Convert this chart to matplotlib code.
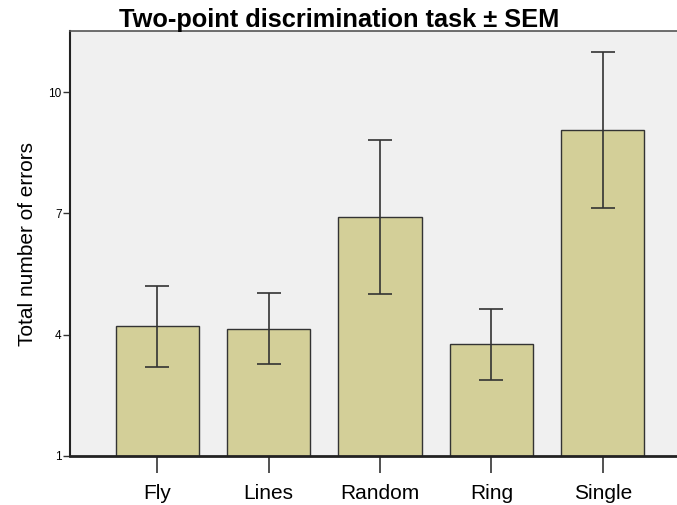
import matplotlib
matplotlib.use("Agg")
import matplotlib.pyplot as plt
import numpy as np

categories = ["Fly", "Lines", "Random", "Ring", "Single"]
means = [4.21, 4.15, 6.91, 3.76, 9.07]
sems = [1.00, 0.88, 1.90, 0.88, 1.93]
yticks = [1, 4, 7, 10]

plt.rcParams['font.family'] = ['Liberation Sans', 'DejaVu Sans']

fig = plt.figure(figsize=(6.77, 5.05), dpi=100)
ax = fig.add_axes([70/677, 1 - 456/505, (690-70)/677, (456-31)/505])
ax.set_facecolor('#F0F0F0')

x = np.arange(len(categories))
ax.bar(x, means, width=0.75, bottom=0, color='#D3CF98', edgecolor='#333333', linewidth=1.0, zorder=2)
ax.errorbar(x, means, yerr=sems, fmt='none', ecolor='#333333', elinewidth=1.2,
            capsize=8.6, capthick=1.2, zorder=3)

ax.set_xlim(-0.784, 4.784)
ax.set_ylim(1, 11.51)
ax.set_yticks(yticks)
ax.set_yticklabels([str(t) for t in yticks], fontsize=8.5)
ax.set_xticks(x)
ax.set_xticklabels(categories, fontsize=15)
ax.tick_params(axis='x', length=12, width=1.2, color='#333333', pad=8)
ax.tick_params(axis='y', length=5, width=1.0, color='#333333', pad=1)

ax.spines['left'].set_linewidth(1.5)
ax.spines['left'].set_color('#222222')
ax.spines['bottom'].set_linewidth(2.0)
ax.spines['bottom'].set_color('#222222')
ax.spines['top'].set_linewidth(1.2)
ax.spines['top'].set_color('#555555')
ax.spines['right'].set_color('#555555')

ax.set_ylabel("Total number of errors", fontsize=15, labelpad=8)
fig.text((117+562)/2/677, 1 - 19.5/505, "Two-point discrimination task \u00b1 SEM",
         fontsize=18.3, fontweight='bold', ha='center', va='center')

fig.savefig("out.png", dpi=100)
